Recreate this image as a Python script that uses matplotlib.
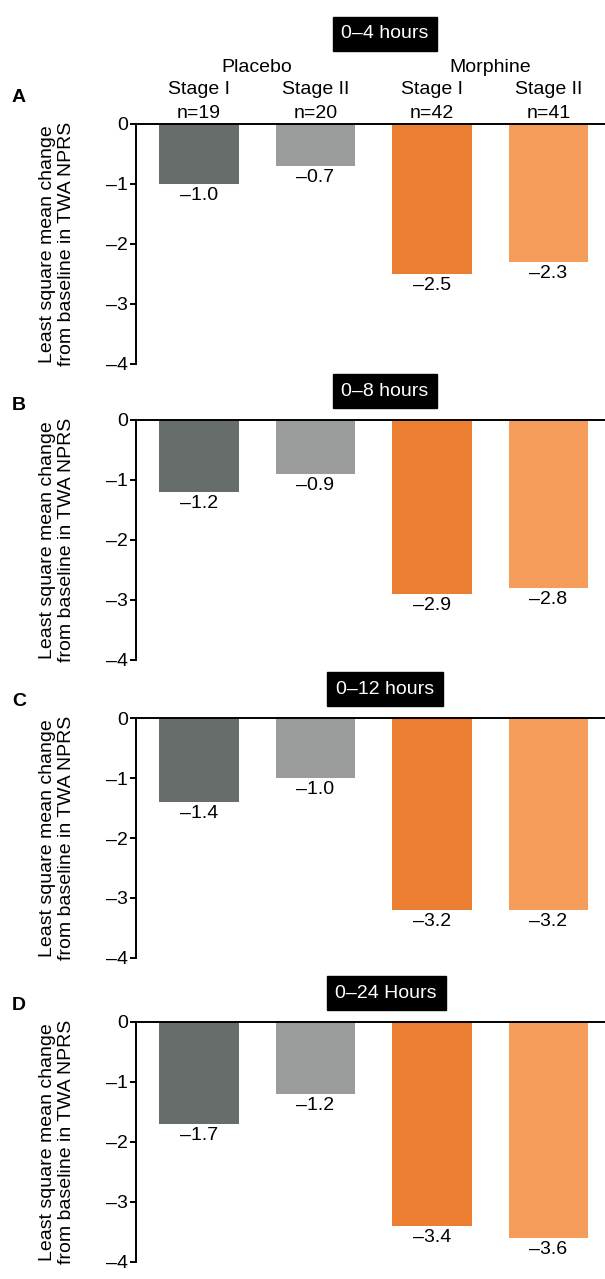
import numpy as np
import matplotlib.pyplot as plt
from matplotlib.ticker import FixedLocator

plt.rcParams['font.family'] = ['Liberation Sans', 'DejaVu Sans']

# Data
groups = ["Stage I", "Stage II", "Stage I", "Stage II"]
n_labels = ["n=19", "n=20", "n=42", "n=41"]
periods = ["0\u20134 hours", "0\u20138 hours", "0\u201312 hours", "0\u201324 Hours"]
panel_letters = ["A", "B", "C", "D"]
vals_4h = [-1.0, -0.7, -2.5, -2.3]
vals_8h = [-1.2, -0.9, -2.9, -2.8]
vals_12h = [-1.4, -1.0, -3.2, -3.2]
vals_24h = [-1.7, -1.2, -3.4, -3.6]
panel_values = [vals_4h, vals_8h, vals_12h, vals_24h]
yticks = [0, -1, -2, -3, -4]

colors = ["#676d6b", "#9a9c9b", "#ec7e31", "#f59c5a"]

W, H = 605, 1279
fig = plt.figure(figsize=(W / 100, H / 100), dpi=100)

# axes top/bottom in pixels
axes_px = [(124, 364), (420, 660), (718, 958), (1022, 1262)]
title_px = [(385, 34), (385, 391), (385, 689), (386, 993)]
letter_px = [98, 405, 702, 1005]
left_px = 136

x = np.arange(4)
fs = 14
pt = 72 / 100  # points per pixel

for i, vals in enumerate(panel_values):
    top, bot = axes_px[i]
    ax = fig.add_axes([left_px / W, 1 - bot / H, 1 - left_px / W, (bot - top) / H])
    ax.bar(x, vals, width=0.68, color=colors)
    ax.set_xlim(-0.54, 3.485)
    ax.set_ylim(-4, 0)
    ax.spines['right'].set_visible(False)
    ax.spines['bottom'].set_visible(False)
    ax.spines['top'].set_linewidth(1.4)
    ax.spines['left'].set_linewidth(1.4)
    ax.set_xticks([])
    ax.yaxis.set_major_locator(FixedLocator(yticks))
    ax.set_yticklabels(["0" if t == 0 else "\u2013%d" % abs(t) for t in yticks], fontsize=fs)
    ax.tick_params(axis='y', length=4, width=1.4, pad=2)
    for xi, v in zip(x, vals):
        ax.annotate("\u2013%.1f" % abs(v), (xi, v), xytext=(0, -2), textcoords='offset points',
                    ha='center', va='top', fontsize=fs)
    ax.set_ylabel("Least square mean change\nfrom baseline in TWA NPRS", fontsize=fs,
                  va='center', ha='center')
    ax.yaxis.set_label_coords((57 - left_px) / (W - left_px), 0.5)
    tx, ty = title_px[i]
    fig.text(tx / W, 1 - ty / H, periods[i], color='white', fontsize=fs, ha='center', va='center',
             bbox=dict(facecolor='black', edgecolor='black', boxstyle='square,pad=0.45'))
    fig.text(12 / W, 1 - letter_px[i] / H, panel_letters[i], fontsize=fs, fontweight='bold',
             ha='left', va='center')
    if i == 0:
        for xi, g, n in zip(x, groups, n_labels):
            ax.annotate(n, (xi, 0), xytext=(0, 6 * pt), textcoords='offset points',
                        ha='center', va='baseline', fontsize=fs, annotation_clip=False)
            ax.annotate(g, (xi, 0), xytext=(0, 30 * pt), textcoords='offset points',
                        ha='center', va='baseline', fontsize=fs, annotation_clip=False)
        ax.annotate("Placebo", (0.5, 0), xytext=(0, 52 * pt), textcoords='offset points',
                    ha='center', va='baseline', fontsize=fs, annotation_clip=False)
        ax.annotate("Morphine", (2.5, 0), xytext=(0, 52 * pt), textcoords='offset points',
                    ha='center', va='baseline', fontsize=fs, annotation_clip=False)

fig.savefig("out.png", dpi=100)
